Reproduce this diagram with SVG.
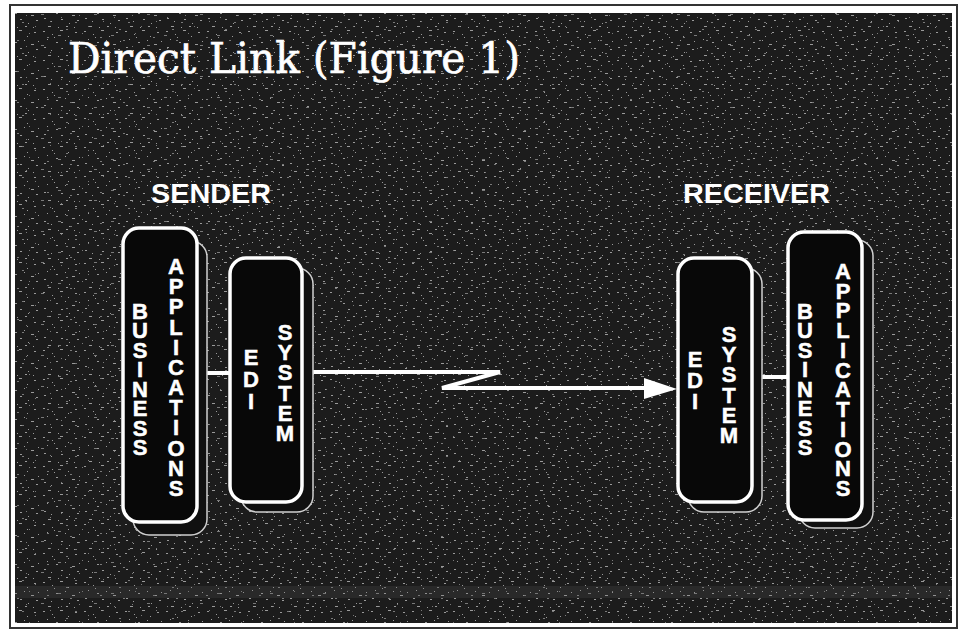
<svg xmlns="http://www.w3.org/2000/svg" width="961" height="633" viewBox="0 0 961 633">
<style>
.title{font-family:"DejaVu Serif","Liberation Serif",serif;font-size:43px;fill:#fff;stroke:#fff;stroke-width:0.7}
.head{font-family:"Liberation Sans",Arial,sans-serif;font-weight:bold;font-size:28px;fill:#fff}
.v{font-family:"Liberation Sans",Arial,sans-serif;font-weight:bold;font-size:22px;fill:#fff;stroke:#fff;stroke-width:0.5;writing-mode:vertical-rl;text-orientation:upright}
.box{fill:#080808;stroke:#fff;stroke-width:3.5}
.shadow{fill:#101010;stroke:#d0d0d0;stroke-width:1.5}
.link{fill:none;stroke:#fff;stroke-width:4;stroke-linejoin:miter}
</style>
<defs>
<pattern id="noise" width="41" height="29" patternUnits="userSpaceOnUse">
<rect width="41" height="29" fill="#1c1c1c"/>
<g fill="#9a9a9a">
<rect x="2" y="2" width="2" height="1"/><rect x="11" y="5" width="1" height="1"/><rect x="19" y="1" width="3" height="1"/>
<rect x="27" y="7" width="1" height="1"/><rect x="34" y="3" width="2" height="1"/><rect x="6" y="10" width="1" height="1"/>
<rect x="15" y="13" width="2" height="1"/><rect x="24" y="11" width="1" height="1"/><rect x="31" y="15" width="3" height="1"/>
<rect x="38" y="12" width="1" height="1"/><rect x="3" y="18" width="2" height="1"/><rect x="10" y="21" width="1" height="1"/>
<rect x="20" y="19" width="2" height="1"/><rect x="28" y="23" width="1" height="1"/><rect x="36" y="20" width="2" height="1"/>
<rect x="7" y="26" width="3" height="1"/><rect x="17" y="27" width="1" height="1"/><rect x="25" y="26" width="2" height="1"/>
<rect x="33" y="27" width="1" height="1"/><rect x="13" y="8" width="1" height="1"/>
</g>
</pattern>
<pattern id="noise2" width="53" height="31" patternUnits="userSpaceOnUse">
<g fill="#7a7a7a">
<rect x="5" y="4" width="3" height="1"/><rect x="17" y="9" width="2" height="1"/><rect x="29" y="2" width="1" height="1"/>
<rect x="41" y="14" width="3" height="1"/><rect x="8" y="17" width="1" height="1"/><rect x="22" y="22" width="2" height="1"/>
<rect x="35" y="26" width="1" height="1"/><rect x="47" y="6" width="2" height="1"/><rect x="13" y="29" width="2" height="1"/>
<rect x="50" y="21" width="1" height="1"/><rect x="26" y="15" width="1" height="1"/>
</g>
</pattern>
</defs>

<rect x="0" y="0" width="961" height="633" fill="#fff"/>
<rect x="10" y="5" width="947" height="623" fill="none" stroke="#333" stroke-width="2"/>
<rect x="15" y="13" width="937" height="610" fill="url(#noise)"/>
<rect x="15" y="13" width="937" height="610" fill="url(#noise2)"/>
<rect x="15" y="586" width="937" height="12" fill="#6a6a6a" opacity="0.18"/>

<text class="title" x="68" y="73" textLength="452" lengthAdjust="spacingAndGlyphs">Direct Link (Figure 1)</text>

<g id="sender-label"><text class="head" x="151" y="203" textLength="120" lengthAdjust="spacingAndGlyphs">SENDER</text></g>
<g id="receiver-label"><text class="head" x="683" y="203" textLength="147" lengthAdjust="spacingAndGlyphs">RECEIVER</text></g>

<g id="connectors">
<line class="link" x1="197" y1="373" x2="230" y2="373"/>
<polyline class="link" points="302,372 500,372 442,388 650,388"/>
<path d="M644,378 L677,389 L644,399 Z" fill="#fff"/>
<line class="link" x1="752" y1="377" x2="788" y2="377"/>
</g>

<g id="sender-business">
<rect class="shadow" x="133" y="241" width="74" height="294" rx="16"/>
<rect class="box" x="123" y="228" width="74" height="294" rx="16"/>
<text class="v" x="140" y="299" textLength="161" lengthAdjust="spacing">BUSINESS</text>
<text class="v" x="176" y="254" textLength="247" lengthAdjust="spacing">APPLICATIONS</text>
</g>

<g id="sender-edi">
<rect class="shadow" x="241" y="268" width="72" height="244" rx="16"/>
<rect class="box" x="230" y="258" width="72" height="244" rx="16"/>
<text class="v" x="251" y="345" textLength="69" lengthAdjust="spacing">EDI</text>
<text class="v" x="285" y="320" textLength="126" lengthAdjust="spacing">SYSTEM</text>
</g>

<g id="receiver-edi">
<rect class="shadow" x="688" y="268" width="74" height="244" rx="16"/>
<rect class="box" x="678" y="258" width="74" height="244" rx="16"/>
<text class="v" x="695" y="347" textLength="67" lengthAdjust="spacing">EDI</text>
<text class="v" x="729" y="322" textLength="126" lengthAdjust="spacing">SYSTEM</text>
</g>

<g id="receiver-business">
<rect class="shadow" x="799" y="240" width="74" height="288" rx="16"/>
<rect class="box" x="788" y="232" width="74" height="288" rx="16"/>
<text class="v" x="805" y="299" textLength="161" lengthAdjust="spacing">BUSINESS</text>
<text class="v" x="843" y="259" textLength="242" lengthAdjust="spacing">APPLICATIONS</text>
</g>
</svg>
